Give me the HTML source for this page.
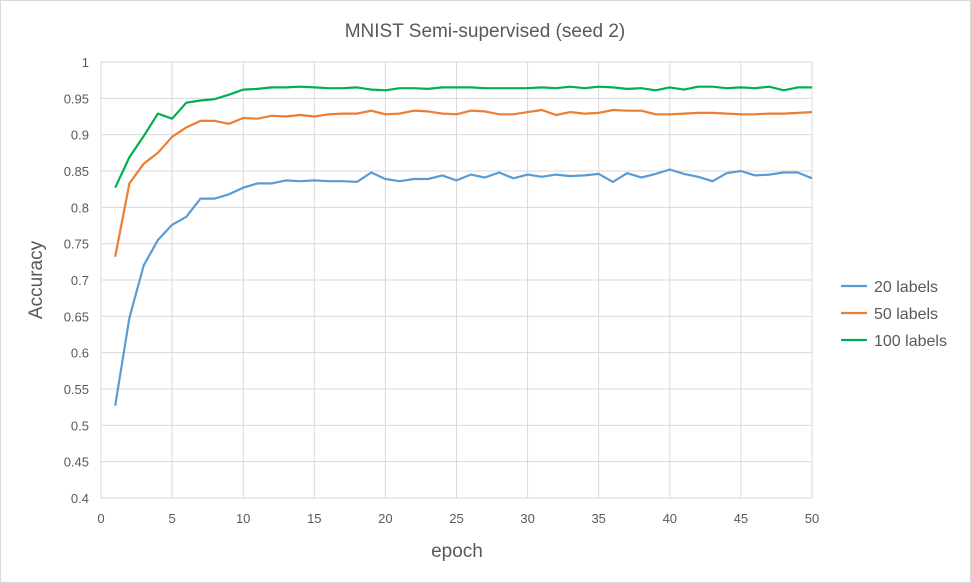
<!DOCTYPE html>
<html><head><meta charset="utf-8"><style>
body{margin:0;background:#fff}
svg{display:block;font-family:"Liberation Sans",sans-serif}
</style></head><body>
<svg id="chart" width="971" height="583">
<rect x="0.5" y="0.5" width="970" height="582" fill="#fff" stroke="#d9d9d9"/>
<text x="485" y="37" text-anchor="middle" font-size="19" fill="#595959">MNIST Semi-supervised (seed 2)</text>
<g id="grid"></g><g id="axes"></g><g id="series"></g><g id="legend"></g>
<text x="457" y="557" text-anchor="middle" font-size="19" fill="#595959">epoch</text>
<text transform="translate(42,280) rotate(-90)" text-anchor="middle" font-size="19" fill="#595959">Accuracy</text>
</svg>
<script>
const epochs=[];for(let i=1;i<=50;i++)epochs.push(i);
const labels20=[.527,.648,.72,.755,.776,.787,.812,.812,.818,.827,.833,.833,.837,.836,.837,.836,.836,.835,.848,.839,.836,.839,.839,.844,.837,.845,.841,.848,.840,.845,.842,.845,.843,.844,.846,.835,.847,.841,.846,.852,.846,.842,.836,.847,.850,.844,.845,.848,.848,.840];
const labels50=[.732,.833,.860,.875,.897,.910,.919,.919,.915,.923,.922,.926,.925,.927,.925,.928,.929,.929,.933,.928,.929,.933,.932,.929,.928,.933,.932,.928,.928,.931,.934,.927,.931,.929,.930,.934,.933,.933,.928,.928,.929,.930,.930,.929,.928,.928,.929,.929,.930,.931];
const labels100=[.827,.869,.898,.929,.922,.944,.947,.949,.955,.962,.963,.965,.965,.966,.965,.964,.964,.965,.962,.961,.964,.964,.963,.965,.965,.965,.964,.964,.964,.964,.965,.964,.966,.964,.966,.965,.963,.964,.961,.965,.962,.966,.966,.964,.965,.964,.966,.961,.965,.965];
const yTicks=[0.4,0.45,0.5,0.55,0.6,0.65,0.7,0.75,0.8,0.85,0.9,0.95,1];
const yTickLabels=["0.4","0.45","0.5","0.55","0.6","0.65","0.7","0.75","0.8","0.85","0.9","0.95","1"];
const xTicks=[0,5,10,15,20,25,30,35,40,45,50];
const seriesNames=["20 labels","50 labels","100 labels"];
const NS="http://www.w3.org/2000/svg";
const X0=101,X1=812,Y0=498,Y1=62;
const xs=v=>X0+(v-0)/(50-0)*(X1-X0);
const ys=v=>Y0-(v-0.4)/(1-0.4)*(Y0-Y1);
function mk(t,a,p){const e=document.createElementNS(NS,t);for(const k in a)e.setAttribute(k,a[k]);p.appendChild(e);return e;}
const grid=document.getElementById('grid'),axes=document.getElementById('axes'),ser=document.getElementById('series'),leg=document.getElementById('legend');
yTicks.forEach((v,i)=>{
 const l=mk('line',{x1:X0,x2:X1,y1:ys(v),y2:ys(v),stroke:'#d9d9d9','stroke-width':1},grid);
 
 
 const t=mk('text',{x:X0-12,y:ys(v)+5,'text-anchor':'end','font-size':13,fill:'#595959'},axes);
 t.textContent=yTickLabels[i];
 
 
});
xTicks.forEach(v=>{
 const l=mk('line',{x1:xs(v),x2:xs(v),y1:Y1,y2:Y0,stroke:'#d9d9d9','stroke-width':1},grid);
 
 
 const t=mk('text',{x:xs(v),y:Y0+25,'text-anchor':'middle','font-size':13,fill:'#595959'},axes);
 t.textContent=String(v);
 
 
});
const data=[labels20,labels50,labels100],colors=['#5b9bd5','#ed7d31','#00b050'];
data.forEach((arr,si)=>{
 const pts=arr.map((v,i)=>xs(epochs[i]).toFixed(1)+','+ys(v).toFixed(1)).join(' ');
 const p=mk('polyline',{points:pts,fill:'none',stroke:colors[si],'stroke-width':2.2,'stroke-linejoin':'round'},ser);
 
 
 const ly=286+si*27;
 const ll=mk('line',{x1:841,x2:867,y1:ly,y2:ly,stroke:colors[si],'stroke-width':2.2},leg);
 
 
 const lt=mk('text',{x:874,y:ly+6,'font-size':16,fill:'#595959'},leg);
 lt.textContent=seriesNames[si];
 
 
});
</script>
</body></html>
